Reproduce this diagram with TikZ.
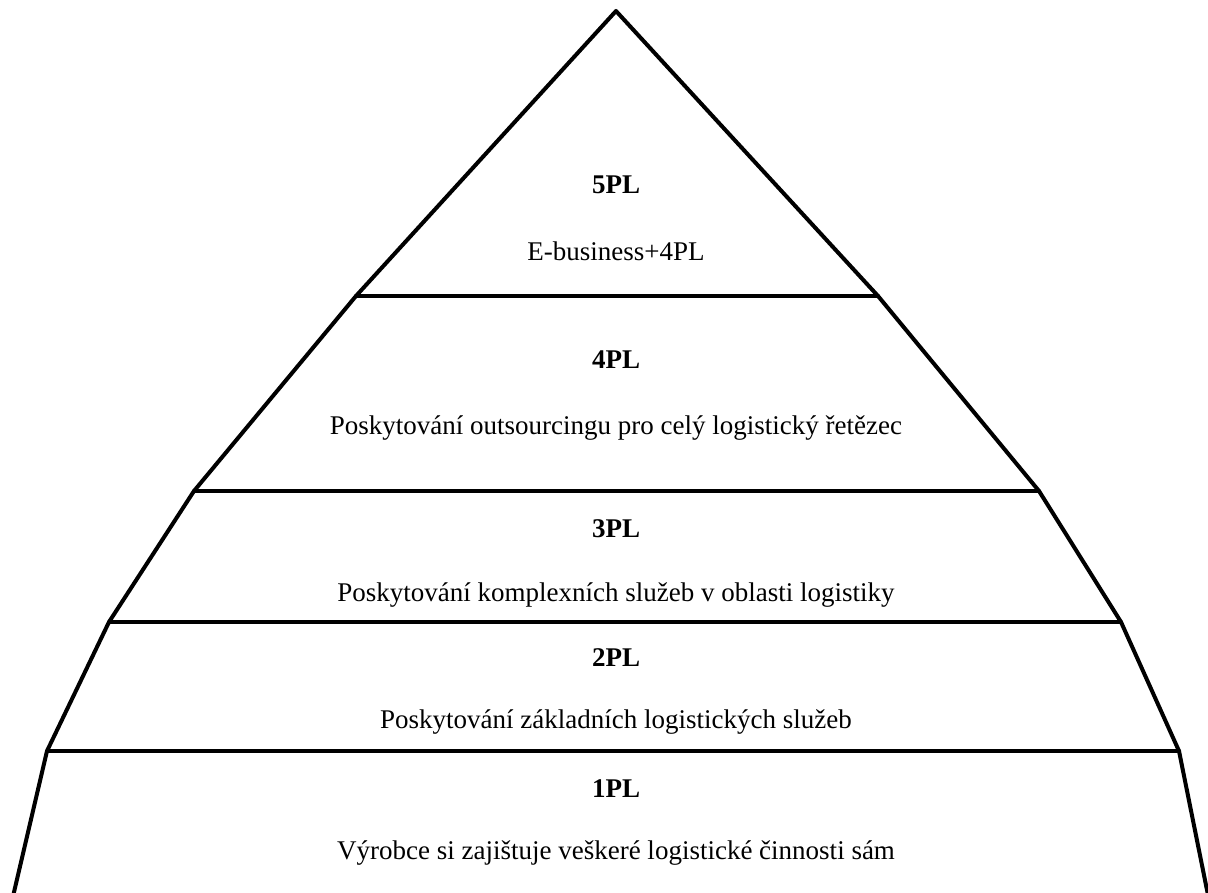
\documentclass[tikz,border=0pt]{standalone}
\usepackage{fontspec}
\setmainfont{Liberation Serif}
\begin{document}
\begin{tikzpicture}[x=1pt,y=-1pt,
  edge/.style={line width=4pt,line join=round,line cap=round},
  level/.style={anchor=base,inner sep=0pt,font=\fontsize{27}{32}\selectfont\bfseries},
  desc/.style={anchor=base,inner sep=0pt,font=\fontsize{27}{32}\selectfont}]
  \useasboundingbox (0,0) rectangle (1208,893);
  \clip (0,0) rectangle (1208,893);
  % corner points of the stacked layers
  \coordinate (apex) at (616,11);
  \coordinate (l5) at (356,296);  \coordinate (r5) at (878,296);
  \coordinate (l4) at (194,491);  \coordinate (r4) at (1039,491);
  \coordinate (l3) at (109,622);  \coordinate (r3) at (1121,622);
  \coordinate (l2) at (47,751);   \coordinate (r2) at (1179,751);
  \coordinate (l1) at (11,905);   \coordinate (r1) at (1210,905);
  % outline and layer borders
  \draw[edge] (l1) -- (l2) -- (l3) -- (l4) -- (l5) -- (apex) -- (r5) -- (r4) -- (r3) -- (r2) -- (r1);
  \draw[edge] (l5) -- (r5);
  \draw[edge] (l4) -- (r4);
  \draw[edge] (l3) -- (r3);
  \draw[edge] (l2) -- (r2);
  % labels
  \node[level] (t5) at (616,194) {5PL};
  \node[desc]  (d5) at (616,261) {E-business+4PL};
  \node[level] (t4) at (616,369) {4PL};
  \node[desc]  (d4) at (616,434) {Poskytování outsourcingu pro celý logistický řetězec};
  \node[level] (t3) at (616,537) {3PL};
  \node[desc]  (d3) at (616,601) {Poskytování komplexních služeb v oblasti logistiky};
  \node[level] (t2) at (616,666) {2PL};
  \node[desc]  (d2) at (616,728) {Poskytování základních logistických služeb};
  \node[level] (t1) at (616,797) {1PL};
  \node[desc]  (d1) at (616,859) {Výrobce si zajištuje veškeré logistické činnosti sám};
\end{tikzpicture}
\end{document}
